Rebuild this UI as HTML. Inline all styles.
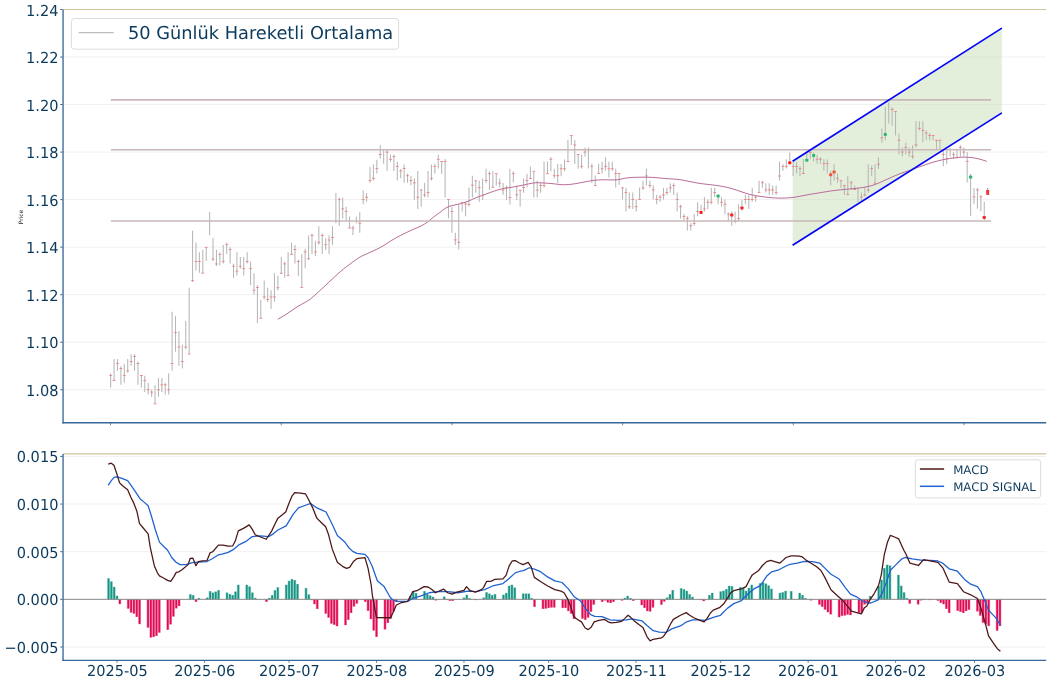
<!DOCTYPE html>
<html lang="tr"><head><meta charset="utf-8"><title>Grafik</title>
<style>html,body{margin:0;padding:0;background:#fff}svg{display:block}</style></head>
<body>
<svg text-rendering="geometricPrecision" width="1050" height="683" viewBox="0 0 1050 683" font-family="'DejaVu Sans', 'Liberation Sans', sans-serif">
<rect width="1050" height="683" fill="#fff"/>
<g stroke="#f0f0f0" stroke-width="1">
<line x1="63.05" x2="1046.2" y1="57.03" y2="57.03"/>
<line x1="63.05" x2="1046.2" y1="104.56" y2="104.56"/>
<line x1="63.05" x2="1046.2" y1="152.09" y2="152.09"/>
<line x1="63.05" x2="1046.2" y1="199.62" y2="199.62"/>
<line x1="63.05" x2="1046.2" y1="247.15" y2="247.15"/>
<line x1="63.05" x2="1046.2" y1="294.68" y2="294.68"/>
<line x1="63.05" x2="1046.2" y1="342.21" y2="342.21"/>
<line x1="63.05" x2="1046.2" y1="389.74" y2="389.74"/>
</g>
<polygon points="792.6,161.2 1001.9,28.1 1001.9,112.9 792.6,245.2" fill="#e3efdb"/>
<g stroke="#000" stroke-opacity="0.035" stroke-width="1">
<line x1="956.41" x2="1001.9" y1="57.03" y2="57.03"/>
<line x1="881.67" x2="1001.9" y1="104.56" y2="104.56"/>
<line x1="806.93" x2="939.02" y1="152.09" y2="152.09"/>
<line x1="792.6" x2="864.27" y1="199.62" y2="199.62"/>
</g>
<g stroke="#b6b6b6" stroke-width="1.05">
<line x1="110.66" x2="110.66" y1="373.36" y2="387.42"/>
<line x1="114.07" x2="114.07" y1="359.06" y2="380.39"/>
<line x1="117.48" x2="117.48" y1="359.06" y2="370.78"/>
<line x1="120.9" x2="120.9" y1="366.33" y2="384.85"/>
<line x1="124.31" x2="124.31" y1="363.99" y2="382.74"/>
<line x1="127.72" x2="127.72" y1="359.06" y2="372.78"/>
<line x1="131.13" x2="131.13" y1="354.26" y2="365.74"/>
<line x1="134.55" x2="134.55" y1="354.26" y2="370.78"/>
<line x1="137.96" x2="137.96" y1="361.41" y2="384.85"/>
<line x1="141.37" x2="141.37" y1="375.47" y2="387.42"/>
<line x1="144.78" x2="144.78" y1="375.7" y2="391.88"/>
<line x1="148.2" x2="148.2" y1="382.74" y2="394.46"/>
<line x1="151.61" x2="151.61" y1="389.77" y2="396.8"/>
<line x1="155.02" x2="155.02" y1="385.08" y2="404.07"/>
<line x1="158.44" x2="158.44" y1="378.05" y2="396.8"/>
<line x1="161.85" x2="161.85" y1="378.05" y2="391.88"/>
<line x1="165.26" x2="165.26" y1="382.74" y2="394.46"/>
<line x1="168.67" x2="168.67" y1="373.13" y2="394.46"/>
<line x1="172.09" x2="172.09" y1="311.68" y2="370.78"/>
<line x1="175.5" x2="175.5" y1="316.19" y2="351.68"/>
<line x1="178.91" x2="178.91" y1="330.94" y2="365.74"/>
<line x1="182.32" x2="182.32" y1="344.65" y2="368.44"/>
<line x1="185.74" x2="185.74" y1="320.9" y2="349.34"/>
<line x1="189.15" x2="189.15" y1="287.7" y2="354.02"/>
<line x1="192.56" x2="192.56" y1="230.74" y2="281.97"/>
<line x1="195.97" x2="195.97" y1="242.62" y2="270.7"/>
<line x1="199.38" x2="199.38" y1="252.25" y2="272.75"/>
<line x1="202.8" x2="202.8" y1="249.8" y2="273.36"/>
<line x1="206.21" x2="206.21" y1="247.13" y2="261.07"/>
<line x1="209.62" x2="209.62" y1="211.89" y2="235.25"/>
<line x1="213.03" x2="213.03" y1="237.91" y2="261.07"/>
<line x1="216.45" x2="216.45" y1="249.8" y2="265.98"/>
<line x1="219.86" x2="219.86" y1="252.25" y2="265.57"/>
<line x1="223.27" x2="223.27" y1="245.08" y2="263.52"/>
<line x1="226.69" x2="226.69" y1="242.62" y2="253.69"/>
<line x1="230.1" x2="230.1" y1="247.13" y2="263.52"/>
<line x1="233.51" x2="233.51" y1="263.52" y2="277.87"/>
<line x1="236.92" x2="236.92" y1="252.25" y2="275.41"/>
<line x1="240.34" x2="240.34" y1="256.97" y2="268.65"/>
<line x1="243.75" x2="243.75" y1="256.97" y2="275.41"/>
<line x1="247.16" x2="247.16" y1="252.25" y2="263.52"/>
<line x1="250.57" x2="250.57" y1="261.48" y2="285.04"/>
<line x1="253.99" x2="253.99" y1="273.36" y2="294.67"/>
<line x1="257.4" x2="257.4" y1="285.04" y2="322.95"/>
<line x1="260.81" x2="260.81" y1="299.8" y2="318.44"/>
<line x1="264.22" x2="264.22" y1="280.53" y2="299.39"/>
<line x1="267.63" x2="267.63" y1="287.7" y2="301.84"/>
<line x1="271.05" x2="271.05" y1="290.16" y2="309.02"/>
<line x1="274.46" x2="274.46" y1="273.36" y2="301.84"/>
<line x1="277.87" x2="277.87" y1="275.82" y2="290.16"/>
<line x1="281.28" x2="281.28" y1="256.97" y2="273.77"/>
<line x1="284.7" x2="284.7" y1="261.48" y2="277.87"/>
<line x1="288.11" x2="288.11" y1="252.25" y2="275.82"/>
<line x1="291.52" x2="291.52" y1="242.62" y2="254.92"/>
<line x1="294.94" x2="294.94" y1="245.08" y2="263.52"/>
<line x1="298.35" x2="298.35" y1="259.43" y2="275.82"/>
<line x1="301.76" x2="301.76" y1="253.98" y2="287.58"/>
<line x1="305.17" x2="305.17" y1="248.85" y2="268.32"/>
<line x1="308.59" x2="308.59" y1="235.53" y2="260.12"/>
<line x1="312" x2="312" y1="233.48" y2="253.98"/>
<line x1="315.41" x2="315.41" y1="240.66" y2="256.02"/>
<line x1="318.82" x2="318.82" y1="226.31" y2="244.75"/>
<line x1="322.24" x2="322.24" y1="233.48" y2="253.98"/>
<line x1="325.65" x2="325.65" y1="238.2" y2="249.88"/>
<line x1="329.06" x2="329.06" y1="235.53" y2="253.98"/>
<line x1="332.47" x2="332.47" y1="226.31" y2="244.75"/>
<line x1="335.88" x2="335.88" y1="192.91" y2="223.24"/>
<line x1="339.3" x2="339.3" y1="197.62" y2="225.7"/>
<line x1="342.71" x2="342.71" y1="197.62" y2="218.52"/>
<line x1="346.12" x2="346.12" y1="206.84" y2="220.16"/>
<line x1="349.53" x2="349.53" y1="216.48" y2="228.36"/>
<line x1="352.95" x2="352.95" y1="225.7" y2="235.12"/>
<line x1="356.36" x2="356.36" y1="216.48" y2="223.24"/>
<line x1="359.77" x2="359.77" y1="211.97" y2="232.87"/>
<line x1="363.19" x2="363.19" y1="190.45" y2="204.18"/>
<line x1="366.6" x2="366.6" y1="192.91" y2="201.72"/>
<line x1="370.01" x2="370.01" y1="166.89" y2="182.87"/>
<line x1="373.42" x2="373.42" y1="164.43" y2="180.41"/>
<line x1="376.84" x2="376.84" y1="159.71" y2="173.44"/>
<line x1="380.25" x2="380.25" y1="145.37" y2="158.69"/>
<line x1="383.66" x2="383.66" y1="150.08" y2="163.81"/>
<line x1="387.07" x2="387.07" y1="150.08" y2="170.98"/>
<line x1="390.49" x2="390.49" y1="154.59" y2="161.76"/>
<line x1="393.9" x2="393.9" y1="154.59" y2="170.98"/>
<line x1="397.31" x2="397.31" y1="161.76" y2="180.41"/>
<line x1="400.72" x2="400.72" y1="168.93" y2="178.16"/>
<line x1="404.13" x2="404.13" y1="164.43" y2="182.87"/>
<line x1="407.55" x2="407.55" y1="173.44" y2="182.87"/>
<line x1="410.96" x2="410.96" y1="176.11" y2="185.33"/>
<line x1="414.37" x2="414.37" y1="178.16" y2="199.67"/>
<line x1="417.78" x2="417.78" y1="170.98" y2="208.89"/>
<line x1="421.2" x2="421.2" y1="189.43" y2="206.84"/>
<line x1="424.61" x2="424.61" y1="182.87" y2="197.21"/>
<line x1="428.02" x2="428.02" y1="170.98" y2="197.21"/>
<line x1="431.44" x2="431.44" y1="164.43" y2="180.41"/>
<line x1="434.85" x2="434.85" y1="163.81" y2="173.44"/>
<line x1="438.26" x2="438.26" y1="154.59" y2="168.52"/>
<line x1="441.67" x2="441.67" y1="160.98" y2="173.69"/>
<line x1="445.09" x2="445.09" y1="158.93" y2="197.46"/>
<line x1="448.5" x2="448.5" y1="199.51" y2="218.36"/>
<line x1="451.91" x2="451.91" y1="207.09" y2="232.7"/>
<line x1="455.32" x2="455.32" y1="232.7" y2="245"/>
<line x1="458.74" x2="458.74" y1="204.02" y2="249.51"/>
<line x1="462.15" x2="462.15" y1="201.97" y2="211.6"/>
<line x1="465.56" x2="465.56" y1="201.97" y2="216.31"/>
<line x1="468.97" x2="468.97" y1="187.62" y2="206.48"/>
<line x1="472.38" x2="472.38" y1="175.74" y2="197.46"/>
<line x1="475.8" x2="475.8" y1="180.45" y2="192.75"/>
<line x1="479.21" x2="479.21" y1="180.86" y2="201.97"/>
<line x1="482.62" x2="482.62" y1="178.4" y2="199.92"/>
<line x1="486.03" x2="486.03" y1="168.77" y2="183.11"/>
<line x1="489.45" x2="489.45" y1="171.23" y2="190.08"/>
<line x1="492.86" x2="492.86" y1="171.23" y2="187.62"/>
<line x1="496.27" x2="496.27" y1="173.69" y2="185.57"/>
<line x1="499.69" x2="499.69" y1="178.4" y2="187.62"/>
<line x1="503.1" x2="503.1" y1="183.11" y2="194.8"/>
<line x1="506.51" x2="506.51" y1="185.57" y2="199.92"/>
<line x1="509.92" x2="509.92" y1="168.77" y2="204.43"/>
<line x1="513.34" x2="513.34" y1="171.23" y2="182.5"/>
<line x1="516.75" x2="516.75" y1="185.57" y2="199.92"/>
<line x1="520.16" x2="520.16" y1="190.08" y2="206.48"/>
<line x1="523.57" x2="523.57" y1="178.4" y2="192.75"/>
<line x1="526.99" x2="526.99" y1="173.69" y2="187.62"/>
<line x1="530.4" x2="530.4" y1="166.52" y2="178.4"/>
<line x1="533.81" x2="533.81" y1="171.23" y2="197.46"/>
<line x1="537.22" x2="537.22" y1="180.45" y2="197.46"/>
<line x1="540.63" x2="540.63" y1="183.11" y2="192.75"/>
<line x1="544.05" x2="544.05" y1="161.6" y2="187.62"/>
<line x1="547.46" x2="547.46" y1="161.6" y2="173.69"/>
<line x1="550.87" x2="550.87" y1="156.89" y2="171.23"/>
<line x1="554.28" x2="554.28" y1="168.77" y2="178.4"/>
<line x1="557.7" x2="557.7" y1="164.06" y2="183.11"/>
<line x1="561.11" x2="561.11" y1="164.06" y2="176.35"/>
<line x1="564.52" x2="564.52" y1="159.34" y2="171.23"/>
<line x1="567.94" x2="567.94" y1="140.08" y2="161.6"/>
<line x1="571.35" x2="571.35" y1="135.37" y2="145"/>
<line x1="574.76" x2="574.76" y1="140.08" y2="164.06"/>
<line x1="578.17" x2="578.17" y1="154.43" y2="168.77"/>
<line x1="581.59" x2="581.59" y1="154.67" y2="168.4"/>
<line x1="585" x2="585" y1="147.5" y2="156.72"/>
<line x1="588.41" x2="588.41" y1="147.5" y2="168.4"/>
<line x1="591.82" x2="591.82" y1="163.69" y2="182.75"/>
<line x1="595.24" x2="595.24" y1="175.57" y2="185.41"/>
<line x1="598.65" x2="598.65" y1="163.69" y2="173.52"/>
<line x1="602.06" x2="602.06" y1="161.64" y2="173.52"/>
<line x1="605.47" x2="605.47" y1="157.13" y2="170.86"/>
<line x1="608.88" x2="608.88" y1="161.64" y2="177.62"/>
<line x1="612.3" x2="612.3" y1="161.64" y2="170.86"/>
<line x1="615.71" x2="615.71" y1="168.81" y2="187.46"/>
<line x1="619.12" x2="619.12" y1="173.11" y2="184.8"/>
<line x1="622.53" x2="622.53" y1="187.46" y2="199.55"/>
<line x1="625.95" x2="625.95" y1="187.87" y2="211.43"/>
<line x1="629.36" x2="629.36" y1="192.58" y2="208.98"/>
<line x1="632.77" x2="632.77" y1="192.58" y2="208.98"/>
<line x1="636.18" x2="636.18" y1="199.55" y2="211.43"/>
<line x1="639.6" x2="639.6" y1="187.46" y2="199.55"/>
<line x1="643.01" x2="643.01" y1="180.7" y2="189.92"/>
<line x1="646.42" x2="646.42" y1="168.81" y2="185.41"/>
<line x1="649.84" x2="649.84" y1="180.7" y2="187.87"/>
<line x1="653.25" x2="653.25" y1="185.41" y2="199.55"/>
<line x1="656.66" x2="656.66" y1="195.04" y2="204.26"/>
<line x1="660.07" x2="660.07" y1="195.04" y2="201.8"/>
<line x1="663.49" x2="663.49" y1="187.87" y2="199.55"/>
<line x1="666.9" x2="666.9" y1="187.87" y2="195.04"/>
<line x1="670.31" x2="670.31" y1="183.16" y2="192.58"/>
<line x1="673.72" x2="673.72" y1="183.16" y2="195.04"/>
<line x1="677.13" x2="677.13" y1="192.58" y2="211.43"/>
<line x1="680.55" x2="680.55" y1="204.67" y2="218.61"/>
<line x1="683.96" x2="683.96" y1="213.89" y2="220.66"/>
<line x1="687.37" x2="687.37" y1="216.15" y2="230.49"/>
<line x1="690.78" x2="690.78" y1="223.32" y2="230.49"/>
<line x1="694.2" x2="694.2" y1="213.89" y2="225.78"/>
<line x1="697.61" x2="697.61" y1="202.21" y2="216.15"/>
<line x1="701.02" x2="701.02" y1="204.67" y2="213.89"/>
<line x1="704.43" x2="704.43" y1="197.09" y2="211.43"/>
<line x1="707.85" x2="707.85" y1="199.55" y2="208.98"/>
<line x1="711.26" x2="711.26" y1="187.87" y2="204.26"/>
<line x1="714.67" x2="714.67" y1="187.87" y2="197.09"/>
<line x1="718.09" x2="718.09" y1="195.04" y2="204.26"/>
<line x1="721.5" x2="721.5" y1="197.09" y2="206.72"/>
<line x1="724.91" x2="724.91" y1="199.55" y2="213.89"/>
<line x1="728.32" x2="728.32" y1="212.46" y2="220.66"/>
<line x1="731.74" x2="731.74" y1="211.43" y2="225.78"/>
<line x1="735.15" x2="735.15" y1="211.43" y2="223.32"/>
<line x1="738.56" x2="738.56" y1="204.26" y2="220.66"/>
<line x1="741.97" x2="741.97" y1="199.55" y2="210.41"/>
<line x1="745.38" x2="745.38" y1="195.04" y2="204.26"/>
<line x1="748.8" x2="748.8" y1="195.04" y2="208.98"/>
<line x1="752.21" x2="752.21" y1="187.87" y2="201.8"/>
<line x1="755.62" x2="755.62" y1="195.04" y2="201.8"/>
<line x1="759.03" x2="759.03" y1="180.7" y2="192.58"/>
<line x1="762.45" x2="762.45" y1="180.7" y2="187.87"/>
<line x1="765.86" x2="765.86" y1="183.16" y2="192.58"/>
<line x1="769.27" x2="769.27" y1="183.16" y2="195.04"/>
<line x1="772.68" x2="772.68" y1="185.41" y2="195.04"/>
<line x1="776.1" x2="776.1" y1="185.41" y2="195.04"/>
<line x1="779.51" x2="779.51" y1="161.64" y2="180.7"/>
<line x1="782.92" x2="782.92" y1="164.3" y2="170.86"/>
<line x1="786.34" x2="786.34" y1="159.18" y2="168.4"/>
<line x1="789.75" x2="789.75" y1="152.42" y2="164.3"/>
<line x1="793.16" x2="793.16" y1="161.64" y2="175.98"/>
<line x1="796.57" x2="796.57" y1="161.64" y2="173.52"/>
<line x1="799.99" x2="799.99" y1="166.35" y2="175.98"/>
<line x1="803.4" x2="803.4" y1="159.18" y2="173.52"/>
<line x1="806.81" x2="806.81" y1="152.42" y2="161.23"/>
<line x1="810.22" x2="810.22" y1="150.98" y2="159.18"/>
<line x1="813.63" x2="813.63" y1="152.42" y2="161.64"/>
<line x1="817.05" x2="817.05" y1="154.67" y2="163.69"/>
<line x1="820.46" x2="820.46" y1="157.13" y2="163.69"/>
<line x1="823.87" x2="823.87" y1="159.18" y2="170.86"/>
<line x1="827.28" x2="827.28" y1="159.18" y2="173.52"/>
<line x1="830.7" x2="830.7" y1="170.86" y2="185.41"/>
<line x1="834.11" x2="834.11" y1="164.3" y2="180.7"/>
<line x1="837.52" x2="837.52" y1="173.52" y2="182.75"/>
<line x1="840.93" x2="840.93" y1="180.7" y2="187.87"/>
<line x1="844.35" x2="844.35" y1="184.8" y2="195.04"/>
<line x1="847.76" x2="847.76" y1="175.98" y2="195.04"/>
<line x1="851.17" x2="851.17" y1="180.7" y2="189.92"/>
<line x1="854.59" x2="854.59" y1="185.41" y2="189.92"/>
<line x1="858" x2="858" y1="187.87" y2="201.8"/>
<line x1="861.41" x2="861.41" y1="192.46" y2="201.68"/>
<line x1="864.82" x2="864.82" y1="187.34" y2="196.56"/>
<line x1="868.24" x2="868.24" y1="164.18" y2="192.46"/>
<line x1="871.65" x2="871.65" y1="165.82" y2="176.07"/>
<line x1="875.06" x2="875.06" y1="164.18" y2="183.24"/>
<line x1="878.47" x2="878.47" y1="157.21" y2="168.89"/>
<line x1="881.88" x2="881.88" y1="128.52" y2="142.87"/>
<line x1="885.3" x2="885.3" y1="107.01" y2="140.2"/>
<line x1="888.71" x2="888.71" y1="102.3" y2="123.81"/>
<line x1="892.12" x2="892.12" y1="107.01" y2="125.86"/>
<line x1="895.53" x2="895.53" y1="111.52" y2="135.49"/>
<line x1="898.95" x2="898.95" y1="133.44" y2="154.55"/>
<line x1="902.36" x2="902.36" y1="147.38" y2="156.6"/>
<line x1="905.77" x2="905.77" y1="142.87" y2="154.55"/>
<line x1="909.18" x2="909.18" y1="147.38" y2="156.6"/>
<line x1="912.6" x2="912.6" y1="145.33" y2="159.06"/>
<line x1="916.01" x2="916.01" y1="121.35" y2="147.38"/>
<line x1="919.42" x2="919.42" y1="121.35" y2="130.57"/>
<line x1="922.84" x2="922.84" y1="121.35" y2="142.25"/>
<line x1="926.25" x2="926.25" y1="130.57" y2="140.2"/>
<line x1="929.66" x2="929.66" y1="133.03" y2="140.2"/>
<line x1="933.07" x2="933.07" y1="135.08" y2="140.2"/>
<line x1="936.49" x2="936.49" y1="140.2" y2="149.43"/>
<line x1="939.9" x2="939.9" y1="140.2" y2="149.43"/>
<line x1="943.31" x2="943.31" y1="149.84" y2="166.23"/>
<line x1="946.72" x2="946.72" y1="149.43" y2="164.18"/>
<line x1="950.13" x2="950.13" y1="147.99" y2="156.6"/>
<line x1="953.55" x2="953.55" y1="152.09" y2="159.06"/>
<line x1="956.96" x2="956.96" y1="149.43" y2="158.65"/>
<line x1="960.37" x2="960.37" y1="145.33" y2="156.6"/>
<line x1="963.78" x2="963.78" y1="147.38" y2="156.6"/>
<line x1="967.2" x2="967.2" y1="152.09" y2="182.62"/>
<line x1="970.61" x2="970.61" y1="174.02" y2="216.02"/>
<line x1="974.02" x2="974.02" y1="187.95" y2="204.34"/>
<line x1="977.43" x2="977.43" y1="187.95" y2="208.85"/>
<line x1="980.85" x2="980.85" y1="194.92" y2="211.31"/>
<line x1="984.26" x2="984.26" y1="201.68" y2="220.12"/>
</g>
<polyline fill="none" stroke="#b86a98" stroke-width="1" stroke-linejoin="round" points="277.83,319.26 280.83,317.53 283.83,315.76 286.83,313.9 289.83,311.89 292.83,309.79 295.83,307.74 298.83,305.86 301.83,304.16 304.83,302.52 307.83,300.77 310.83,298.67 313.83,296.16 316.83,293.43 319.83,290.63 322.83,287.84 325.83,285.04 328.83,282.24 331.83,279.45 334.83,276.65 337.83,273.88 340.83,271.21 343.83,268.74 346.83,266.44 349.83,264.21 352.83,261.99 355.83,259.81 358.83,257.81 361.83,256.12 364.83,254.69 367.83,253.34 370.83,251.98 373.83,250.6 376.83,249.19 379.83,247.71 382.83,246.05 385.83,244.2 388.83,242.24 391.83,240.3 394.83,238.49 397.83,236.86 400.83,235.33 403.83,233.82 406.83,232.34 409.83,230.9 412.83,229.54 415.83,228.26 418.83,226.97 421.83,225.56 424.83,223.86 427.83,221.78 430.83,219.34 433.83,216.83 436.83,214.61 439.83,212.47 442.83,210.11 445.83,208 448.83,206.55 451.83,205.63 454.83,204.97 457.83,204.33 460.83,203.55 463.83,202.69 466.83,201.75 469.83,200.53 472.83,199.13 475.83,197.82 478.83,196.64 481.83,195.53 484.83,194.44 487.83,193.36 490.83,192.3 493.83,191.26 496.83,190.25 499.83,189.34 502.83,188.63 505.83,188.12 508.83,187.69 511.83,187.22 514.83,186.71 517.83,186.16 520.83,185.59 523.83,184.97 526.83,184.3 529.83,183.62 532.83,183.07 535.83,182.77 538.83,182.72 541.83,182.87 544.83,183.08 547.83,183.28 550.83,183.49 553.83,183.8 556.83,184.18 559.83,184.52 562.83,184.72 565.83,184.72 568.83,184.53 571.83,184.19 574.83,183.76 577.83,183.26 580.83,182.7 583.83,182.13 586.83,181.55 589.83,180.98 592.83,180.51 595.83,180.16 598.83,179.91 601.83,179.79 604.83,179.8 607.83,179.86 610.83,179.92 613.83,179.93 616.83,179.75 619.83,179.3 622.83,178.67 625.83,178.08 628.83,177.67 631.83,177.46 634.83,177.33 637.83,177.26 640.83,177.22 643.83,177.21 646.83,177.22 649.83,177.27 652.83,177.4 655.83,177.64 658.83,177.92 661.83,178.22 664.83,178.49 667.83,178.71 670.83,178.88 673.83,179.05 676.83,179.28 679.83,179.66 682.83,180.17 685.83,180.76 688.83,181.36 691.83,181.95 694.83,182.54 697.83,183.09 700.83,183.55 703.83,183.94 706.83,184.29 709.83,184.64 712.83,184.99 715.83,185.36 718.83,185.78 721.83,186.29 724.83,186.87 727.83,187.54 730.83,188.33 733.83,189.21 736.83,190.17 739.83,191.22 742.83,192.27 745.83,193.23 748.83,194.08 751.83,194.84 754.83,195.5 757.83,196.04 760.83,196.49 763.83,196.89 766.83,197.24 769.83,197.56 772.83,197.83 775.83,198.01 778.83,198.09 781.83,198.1 784.83,198.05 787.83,197.91 790.83,197.68 793.83,197.33 796.83,196.85 799.83,196.29 802.83,195.7 805.83,195.13 808.83,194.59 811.83,194.08 814.83,193.58 817.83,193.08 820.83,192.58 823.83,192.08 826.83,191.59 829.83,191.13 832.83,190.71 835.83,190.34 838.83,189.99 841.83,189.67 844.83,189.37 847.83,189.1 850.83,188.85 853.83,188.58 856.83,188.28 859.83,187.91 862.83,187.45 865.83,186.91 868.83,186.31 871.83,185.55 874.83,184.56 877.83,183.39 880.83,182.11 883.83,180.76 886.83,179.39 889.83,178.04 892.83,176.71 895.83,175.41 898.83,174.18 901.83,173.06 904.83,172.01 907.83,170.98 910.83,169.93 913.83,168.86 916.83,167.78 919.83,166.7 922.83,165.62 925.83,164.55 928.83,163.53 931.83,162.59 934.83,161.72 937.83,160.91 940.83,160.17 943.83,159.52 946.83,158.93 949.83,158.42 952.83,158.01 955.83,157.68 958.83,157.41 961.83,157.22 964.83,157.15 967.83,157.24 970.83,157.51 973.83,157.93 976.83,158.48 979.83,159.18 982.83,160.05 985.83,161.06 986.83,161.42"/>
<g fill="#ef7d7d">
<rect x="109.26" y="375.05" width="2.8" height="0.85"/>
<rect x="112.67" y="379.97" width="2.8" height="0.85"/>
<rect x="116.08" y="363.1" width="2.8" height="0.85"/>
<rect x="119.5" y="368.02" width="2.8" height="0.85"/>
<rect x="122.91" y="375.05" width="2.8" height="0.85"/>
<rect x="126.32" y="370.36" width="2.8" height="0.85"/>
<rect x="129.73" y="360.99" width="2.8" height="0.85"/>
<rect x="133.15" y="356.07" width="2.8" height="0.85"/>
<rect x="136.56" y="363.1" width="2.8" height="0.85"/>
<rect x="139.97" y="375.05" width="2.8" height="0.85"/>
<rect x="143.38" y="379.97" width="2.8" height="0.85"/>
<rect x="146.8" y="389.35" width="2.8" height="0.85"/>
<rect x="150.21" y="391.69" width="2.8" height="0.85"/>
<rect x="153.62" y="403.41" width="2.8" height="0.85"/>
<rect x="157.03" y="389.35" width="2.8" height="0.85"/>
<rect x="160.45" y="384.43" width="2.8" height="0.85"/>
<rect x="163.86" y="384.43" width="2.8" height="0.85"/>
<rect x="167.27" y="389.35" width="2.8" height="0.85"/>
<rect x="170.69" y="363.1" width="2.8" height="0.85"/>
<rect x="174.1" y="332.16" width="2.8" height="0.85"/>
<rect x="177.51" y="346.57" width="2.8" height="0.85"/>
<rect x="180.92" y="360.99" width="2.8" height="0.85"/>
<rect x="184.34" y="346.57" width="2.8" height="0.85"/>
<rect x="187.75" y="353.6" width="2.8" height="0.85"/>
<rect x="191.16" y="280.11" width="2.8" height="0.85"/>
<rect x="194.57" y="261.06" width="2.8" height="0.85"/>
<rect x="197.98" y="261.06" width="2.8" height="0.85"/>
<rect x="201.4" y="272.74" width="2.8" height="0.85"/>
<rect x="204.81" y="246.92" width="2.8" height="0.85"/>
<rect x="211.63" y="258.6" width="2.8" height="0.85"/>
<rect x="215.05" y="263.51" width="2.8" height="0.85"/>
<rect x="218.46" y="253.88" width="2.8" height="0.85"/>
<rect x="221.87" y="261.06" width="2.8" height="0.85"/>
<rect x="225.28" y="244.25" width="2.8" height="0.85"/>
<rect x="228.7" y="248.97" width="2.8" height="0.85"/>
<rect x="232.11" y="265.77" width="2.8" height="0.85"/>
<rect x="235.52" y="270.69" width="2.8" height="0.85"/>
<rect x="238.94" y="265.77" width="2.8" height="0.85"/>
<rect x="242.35" y="268.23" width="2.8" height="0.85"/>
<rect x="245.76" y="261.06" width="2.8" height="0.85"/>
<rect x="249.17" y="268.23" width="2.8" height="0.85"/>
<rect x="252.59" y="289.74" width="2.8" height="0.85"/>
<rect x="256" y="287.08" width="2.8" height="0.85"/>
<rect x="259.41" y="317.82" width="2.8" height="0.85"/>
<rect x="262.82" y="296.51" width="2.8" height="0.85"/>
<rect x="266.24" y="299.17" width="2.8" height="0.85"/>
<rect x="269.65" y="296.51" width="2.8" height="0.85"/>
<rect x="273.06" y="296.51" width="2.8" height="0.85"/>
<rect x="276.47" y="287.28" width="2.8" height="0.85"/>
<rect x="279.88" y="272.74" width="2.8" height="0.85"/>
<rect x="283.3" y="263.51" width="2.8" height="0.85"/>
<rect x="286.71" y="274.99" width="2.8" height="0.85"/>
<rect x="290.12" y="253.88" width="2.8" height="0.85"/>
<rect x="293.54" y="248.97" width="2.8" height="0.85"/>
<rect x="296.95" y="261.06" width="2.8" height="0.85"/>
<rect x="300.36" y="286.96" width="2.8" height="0.85"/>
<rect x="303.77" y="251.51" width="2.8" height="0.85"/>
<rect x="307.19" y="258.27" width="2.8" height="0.85"/>
<rect x="310.6" y="235.11" width="2.8" height="0.85"/>
<rect x="314.01" y="251.51" width="2.8" height="0.85"/>
<rect x="317.42" y="241.88" width="2.8" height="0.85"/>
<rect x="320.84" y="235.11" width="2.8" height="0.85"/>
<rect x="324.25" y="244.33" width="2.8" height="0.85"/>
<rect x="327.66" y="239.62" width="2.8" height="0.85"/>
<rect x="331.07" y="237.16" width="2.8" height="0.85"/>
<rect x="337.9" y="199.25" width="2.8" height="0.85"/>
<rect x="341.31" y="208.47" width="2.8" height="0.85"/>
<rect x="344.72" y="210.93" width="2.8" height="0.85"/>
<rect x="348.13" y="227.53" width="2.8" height="0.85"/>
<rect x="351.55" y="227.53" width="2.8" height="0.85"/>
<rect x="358.37" y="222.82" width="2.8" height="0.85"/>
<rect x="361.79" y="199.25" width="2.8" height="0.85"/>
<rect x="365.2" y="196.79" width="2.8" height="0.85"/>
<rect x="368.61" y="179.99" width="2.8" height="0.85"/>
<rect x="372.02" y="177.94" width="2.8" height="0.85"/>
<rect x="375.44" y="168.1" width="2.8" height="0.85"/>
<rect x="378.85" y="154.17" width="2.8" height="0.85"/>
<rect x="385.67" y="151.71" width="2.8" height="0.85"/>
<rect x="389.09" y="158.88" width="2.8" height="0.85"/>
<rect x="392.5" y="156.22" width="2.8" height="0.85"/>
<rect x="395.91" y="166.06" width="2.8" height="0.85"/>
<rect x="399.32" y="170.56" width="2.8" height="0.85"/>
<rect x="402.74" y="168.1" width="2.8" height="0.85"/>
<rect x="406.15" y="175.28" width="2.8" height="0.85"/>
<rect x="409.56" y="179.99" width="2.8" height="0.85"/>
<rect x="412.97" y="182.45" width="2.8" height="0.85"/>
<rect x="416.38" y="196.79" width="2.8" height="0.85"/>
<rect x="419.8" y="189.62" width="2.8" height="0.85"/>
<rect x="423.21" y="194.54" width="2.8" height="0.85"/>
<rect x="426.62" y="192.08" width="2.8" height="0.85"/>
<rect x="430.04" y="177.94" width="2.8" height="0.85"/>
<rect x="433.45" y="166.06" width="2.8" height="0.85"/>
<rect x="436.86" y="158.88" width="2.8" height="0.85"/>
<rect x="440.27" y="161.18" width="2.8" height="0.85"/>
<rect x="443.69" y="161.18" width="2.8" height="0.85"/>
<rect x="447.1" y="199.09" width="2.8" height="0.85"/>
<rect x="450.51" y="211.18" width="2.8" height="0.85"/>
<rect x="453.92" y="239.46" width="2.8" height="0.85"/>
<rect x="457.34" y="241.92" width="2.8" height="0.85"/>
<rect x="460.75" y="202.16" width="2.8" height="0.85"/>
<rect x="464.16" y="203.6" width="2.8" height="0.85"/>
<rect x="467.57" y="204.01" width="2.8" height="0.85"/>
<rect x="470.99" y="184.74" width="2.8" height="0.85"/>
<rect x="474.4" y="180.44" width="2.8" height="0.85"/>
<rect x="477.81" y="187.2" width="2.8" height="0.85"/>
<rect x="481.22" y="194.99" width="2.8" height="0.85"/>
<rect x="484.63" y="180.03" width="2.8" height="0.85"/>
<rect x="488.05" y="173.27" width="2.8" height="0.85"/>
<rect x="491.46" y="186.79" width="2.8" height="0.85"/>
<rect x="494.87" y="173.27" width="2.8" height="0.85"/>
<rect x="498.29" y="182.69" width="2.8" height="0.85"/>
<rect x="501.7" y="189.66" width="2.8" height="0.85"/>
<rect x="505.11" y="187.2" width="2.8" height="0.85"/>
<rect x="508.52" y="197.04" width="2.8" height="0.85"/>
<rect x="511.94" y="173.27" width="2.8" height="0.85"/>
<rect x="515.35" y="194.38" width="2.8" height="0.85"/>
<rect x="518.76" y="189.87" width="2.8" height="0.85"/>
<rect x="522.17" y="187.2" width="2.8" height="0.85"/>
<rect x="525.59" y="180.03" width="2.8" height="0.85"/>
<rect x="529" y="177.98" width="2.8" height="0.85"/>
<rect x="532.41" y="170.81" width="2.8" height="0.85"/>
<rect x="535.82" y="189.66" width="2.8" height="0.85"/>
<rect x="539.24" y="185.15" width="2.8" height="0.85"/>
<rect x="542.65" y="185.15" width="2.8" height="0.85"/>
<rect x="546.06" y="173.27" width="2.8" height="0.85"/>
<rect x="549.47" y="158.92" width="2.8" height="0.85"/>
<rect x="552.88" y="175.32" width="2.8" height="0.85"/>
<rect x="556.3" y="175.32" width="2.8" height="0.85"/>
<rect x="559.71" y="168.35" width="2.8" height="0.85"/>
<rect x="563.12" y="168.35" width="2.8" height="0.85"/>
<rect x="566.54" y="161.18" width="2.8" height="0.85"/>
<rect x="569.95" y="134.95" width="2.8" height="0.85"/>
<rect x="573.36" y="144.58" width="2.8" height="0.85"/>
<rect x="576.77" y="154.01" width="2.8" height="0.85"/>
<rect x="580.19" y="165.93" width="2.8" height="0.85"/>
<rect x="583.6" y="151.59" width="2.8" height="0.85"/>
<rect x="587.01" y="149.54" width="2.8" height="0.85"/>
<rect x="590.42" y="165.93" width="2.8" height="0.85"/>
<rect x="593.84" y="184.99" width="2.8" height="0.85"/>
<rect x="597.25" y="173.1" width="2.8" height="0.85"/>
<rect x="600.66" y="168.39" width="2.8" height="0.85"/>
<rect x="604.07" y="165.93" width="2.8" height="0.85"/>
<rect x="607.49" y="168.39" width="2.8" height="0.85"/>
<rect x="610.9" y="168.39" width="2.8" height="0.85"/>
<rect x="614.31" y="173.1" width="2.8" height="0.85"/>
<rect x="617.72" y="173.1" width="2.8" height="0.85"/>
<rect x="621.13" y="187.45" width="2.8" height="0.85"/>
<rect x="624.55" y="192.16" width="2.8" height="0.85"/>
<rect x="627.96" y="206.3" width="2.8" height="0.85"/>
<rect x="631.37" y="199.13" width="2.8" height="0.85"/>
<rect x="634.78" y="206.3" width="2.8" height="0.85"/>
<rect x="638.2" y="199.13" width="2.8" height="0.85"/>
<rect x="641.61" y="187.45" width="2.8" height="0.85"/>
<rect x="645.02" y="175.56" width="2.8" height="0.85"/>
<rect x="648.44" y="184.99" width="2.8" height="0.85"/>
<rect x="651.85" y="189.5" width="2.8" height="0.85"/>
<rect x="655.26" y="199.13" width="2.8" height="0.85"/>
<rect x="658.67" y="196.67" width="2.8" height="0.85"/>
<rect x="662.09" y="194.62" width="2.8" height="0.85"/>
<rect x="665.5" y="192.16" width="2.8" height="0.85"/>
<rect x="668.91" y="187.45" width="2.8" height="0.85"/>
<rect x="672.32" y="184.99" width="2.8" height="0.85"/>
<rect x="675.74" y="199.13" width="2.8" height="0.85"/>
<rect x="679.15" y="206.3" width="2.8" height="0.85"/>
<rect x="682.56" y="216.14" width="2.8" height="0.85"/>
<rect x="685.97" y="218.19" width="2.8" height="0.85"/>
<rect x="689.38" y="225.36" width="2.8" height="0.85"/>
<rect x="692.8" y="222.9" width="2.8" height="0.85"/>
<rect x="696.21" y="211.01" width="2.8" height="0.85"/>
<rect x="703.03" y="208.56" width="2.8" height="0.85"/>
<rect x="706.45" y="201.79" width="2.8" height="0.85"/>
<rect x="709.86" y="201.79" width="2.8" height="0.85"/>
<rect x="713.27" y="192.16" width="2.8" height="0.85"/>
<rect x="720.1" y="201.79" width="2.8" height="0.85"/>
<rect x="723.51" y="203.84" width="2.8" height="0.85"/>
<rect x="726.92" y="213.47" width="2.8" height="0.85"/>
<rect x="733.75" y="220.44" width="2.8" height="0.85"/>
<rect x="737.16" y="218.19" width="2.8" height="0.85"/>
<rect x="743.99" y="199.13" width="2.8" height="0.85"/>
<rect x="747.4" y="199.13" width="2.8" height="0.85"/>
<rect x="750.81" y="199.13" width="2.8" height="0.85"/>
<rect x="754.22" y="196.67" width="2.8" height="0.85"/>
<rect x="757.63" y="192.16" width="2.8" height="0.85"/>
<rect x="761.05" y="182.33" width="2.8" height="0.85"/>
<rect x="764.46" y="189.5" width="2.8" height="0.85"/>
<rect x="767.87" y="189.5" width="2.8" height="0.85"/>
<rect x="771.28" y="189.5" width="2.8" height="0.85"/>
<rect x="774.7" y="192.16" width="2.8" height="0.85"/>
<rect x="778.11" y="175.56" width="2.8" height="0.85"/>
<rect x="781.52" y="165.93" width="2.8" height="0.85"/>
<rect x="784.94" y="165.93" width="2.8" height="0.85"/>
<rect x="791.76" y="165.93" width="2.8" height="0.85"/>
<rect x="795.17" y="165.93" width="2.8" height="0.85"/>
<rect x="798.59" y="167.98" width="2.8" height="0.85"/>
<rect x="802" y="173.1" width="2.8" height="0.85"/>
<rect x="808.82" y="152" width="2.8" height="0.85"/>
<rect x="815.65" y="158.76" width="2.8" height="0.85"/>
<rect x="819.06" y="158.76" width="2.8" height="0.85"/>
<rect x="822.47" y="163.27" width="2.8" height="0.85"/>
<rect x="825.88" y="163.27" width="2.8" height="0.85"/>
<rect x="836.12" y="177.82" width="2.8" height="0.85"/>
<rect x="839.53" y="180.28" width="2.8" height="0.85"/>
<rect x="842.95" y="185.4" width="2.8" height="0.85"/>
<rect x="846.36" y="194.21" width="2.8" height="0.85"/>
<rect x="849.77" y="182.33" width="2.8" height="0.85"/>
<rect x="853.19" y="189.09" width="2.8" height="0.85"/>
<rect x="860.01" y="196.55" width="2.8" height="0.85"/>
<rect x="863.42" y="194.5" width="2.8" height="0.85"/>
<rect x="866.84" y="189.58" width="2.8" height="0.85"/>
<rect x="870.25" y="168.06" width="2.8" height="0.85"/>
<rect x="873.66" y="182.82" width="2.8" height="0.85"/>
<rect x="877.07" y="163.76" width="2.8" height="0.85"/>
<rect x="880.49" y="137.33" width="2.8" height="0.85"/>
<rect x="890.72" y="109.05" width="2.8" height="0.85"/>
<rect x="894.13" y="111.1" width="2.8" height="0.85"/>
<rect x="897.55" y="139.78" width="2.8" height="0.85"/>
<rect x="900.96" y="151.67" width="2.8" height="0.85"/>
<rect x="904.37" y="146.96" width="2.8" height="0.85"/>
<rect x="907.78" y="151.67" width="2.8" height="0.85"/>
<rect x="911.2" y="156.18" width="2.8" height="0.85"/>
<rect x="914.61" y="144.5" width="2.8" height="0.85"/>
<rect x="918.02" y="127.9" width="2.8" height="0.85"/>
<rect x="921.44" y="130.15" width="2.8" height="0.85"/>
<rect x="924.85" y="132.61" width="2.8" height="0.85"/>
<rect x="928.26" y="135.07" width="2.8" height="0.85"/>
<rect x="931.67" y="135.07" width="2.8" height="0.85"/>
<rect x="935.09" y="139.78" width="2.8" height="0.85"/>
<rect x="938.5" y="139.78" width="2.8" height="0.85"/>
<rect x="941.91" y="154.13" width="2.8" height="0.85"/>
<rect x="945.32" y="158.64" width="2.8" height="0.85"/>
<rect x="948.74" y="149.01" width="2.8" height="0.85"/>
<rect x="952.15" y="154.13" width="2.8" height="0.85"/>
<rect x="955.56" y="156.79" width="2.8" height="0.85"/>
<rect x="958.97" y="146.96" width="2.8" height="0.85"/>
<rect x="962.38" y="151.67" width="2.8" height="0.85"/>
<rect x="965.8" y="160.89" width="2.8" height="0.85"/>
<rect x="972.62" y="196.55" width="2.8" height="0.85"/>
<rect x="976.03" y="189.58" width="2.8" height="0.85"/>
<rect x="979.45" y="196.55" width="2.8" height="0.85"/>
</g>
<rect x="699.42" y="210.96" width="3.2" height="3" rx="0.9" fill="#ff1f1f"/>
<rect x="716.49" y="194.57" width="3.2" height="3" rx="0.9" fill="#2bb870"/>
<rect x="730.13" y="213.62" width="3.2" height="3" rx="0.9" fill="#ff1f1f"/>
<rect x="740.37" y="206.45" width="3.2" height="3" rx="0.9" fill="#ff1f1f"/>
<rect x="788.15" y="161.37" width="3.2" height="3" rx="0.9" fill="#ff1f1f"/>
<rect x="805.21" y="158.7" width="3.2" height="3" rx="0.9" fill="#2bb870"/>
<rect x="812.03" y="153.99" width="3.2" height="3" rx="0.9" fill="#2bb870"/>
<rect x="829.1" y="173.25" width="3.2" height="3" rx="0.9" fill="#f2543c"/>
<rect x="832.51" y="170.59" width="3.2" height="3" rx="0.9" fill="#f2543c"/>
<rect x="883.7" y="132.97" width="3.2" height="3" rx="0.9" fill="#2bb870"/>
<rect x="969.01" y="175.59" width="3.2" height="3" rx="0.9" fill="#2bb870"/>
<rect x="982.66" y="215.96" width="3.2" height="3" rx="0.9" fill="#ff1f1f"/>
<line x1="987.67" x2="987.67" y1="187.95" y2="190.5" stroke="#9a9a9a" stroke-width="1"/>
<rect x="986.17" y="190" width="3" height="4.9" fill="#f5333f"/>
<line x1="110.9" x2="991.1" y1="99.85" y2="99.85" stroke="#c9b7b9" stroke-width="1.6"/>
<line x1="110.9" x2="991.1" y1="149.75" y2="149.75" stroke="#c9b7b9" stroke-width="1.6"/>
<line x1="110.9" x2="991.1" y1="221.05" y2="221.05" stroke="#c9b7b9" stroke-width="1.6"/>
<line x1="792.6" y1="161.2" x2="1001.9" y2="28.1" stroke="#0404f8" stroke-width="1.7"/>
<line x1="792.6" y1="245.2" x2="1001.9" y2="112.9" stroke="#0404f8" stroke-width="1.7"/>
<line x1="63.05" x2="1046.2" y1="9.5" y2="9.5" stroke="#d0c49c" stroke-width="1.2"/>
<line x1="63.05" x2="63.05" y1="9.5" y2="423.45" stroke="#376899" stroke-width="1.35"/>
<line x1="62.35" x2="1046.2" y1="422.75" y2="422.75" stroke="#376899" stroke-width="1.35"/>
<line x1="110.5" x2="110.5" y1="422.75" y2="425.25" stroke="#376899" stroke-width="0.8"/>
<line x1="281.2" x2="281.2" y1="422.75" y2="425.25" stroke="#376899" stroke-width="0.8"/>
<line x1="451.9" x2="451.9" y1="422.75" y2="425.25" stroke="#376899" stroke-width="0.8"/>
<line x1="622.6" x2="622.6" y1="422.75" y2="425.25" stroke="#376899" stroke-width="0.8"/>
<line x1="793.3" x2="793.3" y1="422.75" y2="425.25" stroke="#376899" stroke-width="0.8"/>
<line x1="964" x2="964" y1="422.75" y2="425.25" stroke="#376899" stroke-width="0.8"/>
<g fill="#0b3a5c" font-size="14.55" text-anchor="end">
<text transform="translate(58.4,15.5) scale(1,1.04)">1.24</text>
<text transform="translate(58.4,63.03) scale(1,1.04)">1.22</text>
<text transform="translate(58.4,110.56) scale(1,1.04)">1.20</text>
<text transform="translate(58.4,158.09) scale(1,1.04)">1.18</text>
<text transform="translate(58.4,205.62) scale(1,1.04)">1.16</text>
<text transform="translate(58.4,253.15) scale(1,1.04)">1.14</text>
<text transform="translate(58.4,300.68) scale(1,1.04)">1.12</text>
<text transform="translate(58.4,348.21) scale(1,1.04)">1.10</text>
<text transform="translate(58.4,395.74) scale(1,1.04)">1.08</text>
</g>
<line x1="60.3" x2="62.4" y1="9.5" y2="9.5" stroke="#0b3a5c" stroke-width="0.8"/>
<line x1="60.3" x2="62.4" y1="57.03" y2="57.03" stroke="#0b3a5c" stroke-width="0.8"/>
<line x1="60.3" x2="62.4" y1="104.56" y2="104.56" stroke="#0b3a5c" stroke-width="0.8"/>
<line x1="60.3" x2="62.4" y1="152.09" y2="152.09" stroke="#0b3a5c" stroke-width="0.8"/>
<line x1="60.3" x2="62.4" y1="199.62" y2="199.62" stroke="#0b3a5c" stroke-width="0.8"/>
<line x1="60.3" x2="62.4" y1="247.15" y2="247.15" stroke="#0b3a5c" stroke-width="0.8"/>
<line x1="60.3" x2="62.4" y1="294.68" y2="294.68" stroke="#0b3a5c" stroke-width="0.8"/>
<line x1="60.3" x2="62.4" y1="342.21" y2="342.21" stroke="#0b3a5c" stroke-width="0.8"/>
<line x1="60.3" x2="62.4" y1="389.74" y2="389.74" stroke="#0b3a5c" stroke-width="0.8"/>
<text transform="translate(22.6,217) rotate(-90)" font-size="5.9" fill="#222" text-anchor="middle">Price</text>
<rect x="71.4" y="18.5" width="327.2" height="30.7" rx="3" fill="#fff" fill-opacity="0.8" stroke="#dcdcdc" stroke-width="1"/>
<line x1="78.6" x2="113.8" y1="32.6" y2="32.6" stroke="#bdbdbd" stroke-width="1.1"/>
<text x="127.9" y="38.9" font-size="17.8" fill="#0b3a5c">50 Günlük Hareketli Ortalama</text>
<g stroke="#f0f0f0" stroke-width="1">
<line x1="63.05" x2="1046.2" y1="456.4" y2="456.4"/>
<line x1="63.05" x2="1046.2" y1="504.05" y2="504.05"/>
<line x1="63.05" x2="1046.2" y1="551.7" y2="551.7"/>
<line x1="63.05" x2="1046.2" y1="647" y2="647"/>
</g>
<g fill="#149483" fill-opacity="0.38">
<rect x="107.09" y="578.15" width="2.9" height="21.2"/>
<rect x="109.91" y="581.35" width="2.9" height="18"/>
<rect x="112.73" y="586.75" width="2.9" height="12.6"/>
<rect x="115.55" y="595.65" width="2.9" height="3.7"/>
<rect x="188.9" y="594.15" width="2.9" height="5.2"/>
<rect x="191.72" y="595.05" width="2.9" height="4.3"/>
<rect x="197.36" y="597.95" width="2.9" height="1.4"/>
<rect x="205.82" y="597.45" width="2.9" height="1.9"/>
<rect x="208.64" y="591.05" width="2.9" height="8.3"/>
<rect x="211.46" y="592.45" width="2.9" height="6.9"/>
<rect x="214.29" y="591.45" width="2.9" height="7.9"/>
<rect x="217.11" y="590.05" width="2.9" height="9.3"/>
<rect x="225.57" y="592.45" width="2.9" height="6.9"/>
<rect x="228.39" y="593.95" width="2.9" height="5.4"/>
<rect x="231.21" y="594.95" width="2.9" height="4.4"/>
<rect x="234.03" y="591.45" width="2.9" height="7.9"/>
<rect x="236.85" y="584.65" width="2.9" height="14.7"/>
<rect x="245.32" y="584.65" width="2.9" height="14.7"/>
<rect x="248.14" y="586.35" width="2.9" height="13"/>
<rect x="250.96" y="592.45" width="2.9" height="6.9"/>
<rect x="253.78" y="597.75" width="2.9" height="1.6"/>
<rect x="267.88" y="597.75" width="2.9" height="1.6"/>
<rect x="270.7" y="595.05" width="2.9" height="4.3"/>
<rect x="273.53" y="590.05" width="2.9" height="9.3"/>
<rect x="276.35" y="587.15" width="2.9" height="12.2"/>
<rect x="284.81" y="584.65" width="2.9" height="14.7"/>
<rect x="287.63" y="580.75" width="2.9" height="18.6"/>
<rect x="290.45" y="578.95" width="2.9" height="20.4"/>
<rect x="293.27" y="579.95" width="2.9" height="19.4"/>
<rect x="296.09" y="583.95" width="2.9" height="15.4"/>
<rect x="304.56" y="587.95" width="2.9" height="11.4"/>
<rect x="307.38" y="594.35" width="2.9" height="5"/>
<rect x="408.93" y="595.75" width="2.9" height="3.6"/>
<rect x="411.76" y="591.05" width="2.9" height="8.3"/>
<rect x="414.58" y="592.95" width="2.9" height="6.4"/>
<rect x="423.04" y="591.05" width="2.9" height="8.3"/>
<rect x="425.86" y="593.95" width="2.9" height="5.4"/>
<rect x="428.68" y="595.35" width="2.9" height="4"/>
<rect x="431.5" y="596.75" width="2.9" height="2.6"/>
<rect x="442.79" y="596.45" width="2.9" height="2.9"/>
<rect x="462.53" y="597.45" width="2.9" height="1.9"/>
<rect x="465.35" y="594.65" width="2.9" height="4.7"/>
<rect x="468.18" y="598.15" width="2.9" height="1.2"/>
<rect x="482.28" y="597.45" width="2.9" height="1.9"/>
<rect x="485.1" y="592.15" width="2.9" height="7.2"/>
<rect x="487.92" y="593.45" width="2.9" height="5.9"/>
<rect x="490.74" y="595.05" width="2.9" height="4.3"/>
<rect x="493.56" y="593.95" width="2.9" height="5.4"/>
<rect x="502.03" y="594.65" width="2.9" height="4.7"/>
<rect x="504.85" y="592.75" width="2.9" height="6.6"/>
<rect x="507.67" y="585.65" width="2.9" height="13.7"/>
<rect x="510.49" y="584.65" width="2.9" height="14.7"/>
<rect x="513.31" y="587.45" width="2.9" height="11.9"/>
<rect x="521.77" y="593.45" width="2.9" height="5.9"/>
<rect x="524.6" y="593.45" width="2.9" height="5.9"/>
<rect x="527.42" y="593.45" width="2.9" height="5.9"/>
<rect x="530.24" y="597.95" width="2.9" height="1.4"/>
<rect x="623.33" y="597.75" width="2.9" height="1.6"/>
<rect x="626.15" y="595.75" width="2.9" height="3.6"/>
<rect x="628.97" y="597.95" width="2.9" height="1.4"/>
<rect x="665.64" y="597.45" width="2.9" height="1.9"/>
<rect x="668.47" y="594.15" width="2.9" height="5.2"/>
<rect x="671.29" y="589.95" width="2.9" height="9.4"/>
<rect x="679.75" y="588.15" width="2.9" height="11.2"/>
<rect x="682.57" y="589.15" width="2.9" height="10.2"/>
<rect x="685.39" y="590.75" width="2.9" height="8.6"/>
<rect x="688.21" y="594.15" width="2.9" height="5.2"/>
<rect x="691.03" y="596.75" width="2.9" height="2.6"/>
<rect x="707.96" y="594.95" width="2.9" height="4.4"/>
<rect x="710.78" y="592.75" width="2.9" height="6.6"/>
<rect x="719.24" y="591.35" width="2.9" height="8"/>
<rect x="722.06" y="590.65" width="2.9" height="8.7"/>
<rect x="724.89" y="588.95" width="2.9" height="10.4"/>
<rect x="727.71" y="585.75" width="2.9" height="13.6"/>
<rect x="730.53" y="586.05" width="2.9" height="13.3"/>
<rect x="738.99" y="587.15" width="2.9" height="12.2"/>
<rect x="741.81" y="587.95" width="2.9" height="11.4"/>
<rect x="744.63" y="590.75" width="2.9" height="8.6"/>
<rect x="747.45" y="587.75" width="2.9" height="11.6"/>
<rect x="750.27" y="584.65" width="2.9" height="14.7"/>
<rect x="758.74" y="583.15" width="2.9" height="16.2"/>
<rect x="761.56" y="582.15" width="2.9" height="17.2"/>
<rect x="764.38" y="583.45" width="2.9" height="15.9"/>
<rect x="767.2" y="585.35" width="2.9" height="14"/>
<rect x="770.02" y="588.65" width="2.9" height="10.7"/>
<rect x="778.49" y="592.75" width="2.9" height="6.6"/>
<rect x="781.31" y="592.15" width="2.9" height="7.2"/>
<rect x="784.13" y="590.75" width="2.9" height="8.6"/>
<rect x="789.77" y="591.05" width="2.9" height="8.3"/>
<rect x="798.23" y="592.75" width="2.9" height="6.6"/>
<rect x="801.05" y="594.95" width="2.9" height="4.4"/>
<rect x="803.87" y="597.95" width="2.9" height="1.4"/>
<rect x="868.76" y="595.85" width="2.9" height="3.5"/>
<rect x="877.22" y="586.05" width="2.9" height="13.3"/>
<rect x="880.04" y="579.65" width="2.9" height="19.7"/>
<rect x="882.86" y="567.95" width="2.9" height="31.4"/>
<rect x="885.68" y="564.65" width="2.9" height="34.7"/>
<rect x="888.5" y="565.35" width="2.9" height="34"/>
<rect x="896.97" y="574.75" width="2.9" height="24.6"/>
<rect x="899.79" y="585.65" width="2.9" height="13.7"/>
<rect x="902.61" y="592.25" width="2.9" height="7.1"/>
<rect x="905.43" y="597.95" width="2.9" height="1.4"/>
<rect x="922.36" y="598.65" width="2.9" height="0.7"/>
</g>
<g fill="#149483">
<rect x="107.69" y="578.45" width="1.7" height="20.9"/>
<rect x="110.51" y="581.65" width="1.7" height="17.7"/>
<rect x="113.33" y="587.05" width="1.7" height="12.3"/>
<rect x="116.15" y="595.95" width="1.7" height="3.4"/>
<rect x="189.5" y="594.45" width="1.7" height="4.9"/>
<rect x="192.32" y="595.35" width="1.7" height="4"/>
<rect x="197.96" y="598.25" width="1.7" height="1.1"/>
<rect x="206.42" y="597.75" width="1.7" height="1.6"/>
<rect x="209.24" y="591.35" width="1.7" height="8"/>
<rect x="212.06" y="592.75" width="1.7" height="6.6"/>
<rect x="214.89" y="591.75" width="1.7" height="7.6"/>
<rect x="217.71" y="590.35" width="1.7" height="9"/>
<rect x="226.17" y="592.75" width="1.7" height="6.6"/>
<rect x="228.99" y="594.25" width="1.7" height="5.1"/>
<rect x="231.81" y="595.25" width="1.7" height="4.1"/>
<rect x="234.63" y="591.75" width="1.7" height="7.6"/>
<rect x="237.45" y="584.95" width="1.7" height="14.4"/>
<rect x="245.92" y="584.95" width="1.7" height="14.4"/>
<rect x="248.74" y="586.65" width="1.7" height="12.7"/>
<rect x="251.56" y="592.75" width="1.7" height="6.6"/>
<rect x="254.38" y="598.05" width="1.7" height="1.3"/>
<rect x="268.48" y="598.05" width="1.7" height="1.3"/>
<rect x="271.3" y="595.35" width="1.7" height="4"/>
<rect x="274.13" y="590.35" width="1.7" height="9"/>
<rect x="276.95" y="587.45" width="1.7" height="11.9"/>
<rect x="285.41" y="584.95" width="1.7" height="14.4"/>
<rect x="288.23" y="581.05" width="1.7" height="18.3"/>
<rect x="291.05" y="579.25" width="1.7" height="20.1"/>
<rect x="293.87" y="580.25" width="1.7" height="19.1"/>
<rect x="296.69" y="584.25" width="1.7" height="15.1"/>
<rect x="305.16" y="588.25" width="1.7" height="11.1"/>
<rect x="307.98" y="594.65" width="1.7" height="4.7"/>
<rect x="409.53" y="596.05" width="1.7" height="3.3"/>
<rect x="412.36" y="591.35" width="1.7" height="8"/>
<rect x="415.18" y="593.25" width="1.7" height="6.1"/>
<rect x="423.64" y="591.35" width="1.7" height="8"/>
<rect x="426.46" y="594.25" width="1.7" height="5.1"/>
<rect x="429.28" y="595.65" width="1.7" height="3.7"/>
<rect x="432.1" y="597.05" width="1.7" height="2.3"/>
<rect x="443.39" y="596.75" width="1.7" height="2.6"/>
<rect x="463.13" y="597.75" width="1.7" height="1.6"/>
<rect x="465.95" y="594.95" width="1.7" height="4.4"/>
<rect x="468.77" y="598.45" width="1.7" height="0.9"/>
<rect x="482.88" y="597.75" width="1.7" height="1.6"/>
<rect x="485.7" y="592.45" width="1.7" height="6.9"/>
<rect x="488.52" y="593.75" width="1.7" height="5.6"/>
<rect x="491.34" y="595.35" width="1.7" height="4"/>
<rect x="494.16" y="594.25" width="1.7" height="5.1"/>
<rect x="502.63" y="594.95" width="1.7" height="4.4"/>
<rect x="505.45" y="593.05" width="1.7" height="6.3"/>
<rect x="508.27" y="585.95" width="1.7" height="13.4"/>
<rect x="511.09" y="584.95" width="1.7" height="14.4"/>
<rect x="513.91" y="587.75" width="1.7" height="11.6"/>
<rect x="522.37" y="593.75" width="1.7" height="5.6"/>
<rect x="525.2" y="593.75" width="1.7" height="5.6"/>
<rect x="528.02" y="593.75" width="1.7" height="5.6"/>
<rect x="530.84" y="598.25" width="1.7" height="1.1"/>
<rect x="623.93" y="598.05" width="1.7" height="1.3"/>
<rect x="626.75" y="596.05" width="1.7" height="3.3"/>
<rect x="629.57" y="598.25" width="1.7" height="1.1"/>
<rect x="666.25" y="597.75" width="1.7" height="1.6"/>
<rect x="669.07" y="594.45" width="1.7" height="4.9"/>
<rect x="671.89" y="590.25" width="1.7" height="9.1"/>
<rect x="680.35" y="588.45" width="1.7" height="10.9"/>
<rect x="683.17" y="589.45" width="1.7" height="9.9"/>
<rect x="685.99" y="591.05" width="1.7" height="8.3"/>
<rect x="688.81" y="594.45" width="1.7" height="4.9"/>
<rect x="691.63" y="597.05" width="1.7" height="2.3"/>
<rect x="708.56" y="595.25" width="1.7" height="4.1"/>
<rect x="711.38" y="593.05" width="1.7" height="6.3"/>
<rect x="719.84" y="591.65" width="1.7" height="7.7"/>
<rect x="722.66" y="590.95" width="1.7" height="8.4"/>
<rect x="725.49" y="589.25" width="1.7" height="10.1"/>
<rect x="728.31" y="586.05" width="1.7" height="13.3"/>
<rect x="731.13" y="586.35" width="1.7" height="13"/>
<rect x="739.59" y="587.45" width="1.7" height="11.9"/>
<rect x="742.41" y="588.25" width="1.7" height="11.1"/>
<rect x="745.23" y="591.05" width="1.7" height="8.3"/>
<rect x="748.05" y="588.05" width="1.7" height="11.3"/>
<rect x="750.88" y="584.95" width="1.7" height="14.4"/>
<rect x="759.34" y="583.45" width="1.7" height="15.9"/>
<rect x="762.16" y="582.45" width="1.7" height="16.9"/>
<rect x="764.98" y="583.75" width="1.7" height="15.6"/>
<rect x="767.8" y="585.65" width="1.7" height="13.7"/>
<rect x="770.62" y="588.95" width="1.7" height="10.4"/>
<rect x="779.09" y="593.05" width="1.7" height="6.3"/>
<rect x="781.91" y="592.45" width="1.7" height="6.9"/>
<rect x="784.73" y="591.05" width="1.7" height="8.3"/>
<rect x="790.37" y="591.35" width="1.7" height="8"/>
<rect x="798.83" y="593.05" width="1.7" height="6.3"/>
<rect x="801.65" y="595.25" width="1.7" height="4.1"/>
<rect x="804.47" y="598.25" width="1.7" height="1.1"/>
<rect x="869.36" y="596.15" width="1.7" height="3.2"/>
<rect x="877.82" y="586.35" width="1.7" height="13"/>
<rect x="880.64" y="579.95" width="1.7" height="19.4"/>
<rect x="883.46" y="568.25" width="1.7" height="31.1"/>
<rect x="886.28" y="564.95" width="1.7" height="34.4"/>
<rect x="889.1" y="565.65" width="1.7" height="33.7"/>
<rect x="897.57" y="575.05" width="1.7" height="24.3"/>
<rect x="900.39" y="585.95" width="1.7" height="13.4"/>
<rect x="903.21" y="592.55" width="1.7" height="6.8"/>
<rect x="906.03" y="598.25" width="1.7" height="1.1"/>
<rect x="922.96" y="598.95" width="1.7" height="0.4"/>
</g>
<g fill="#e00a54" fill-opacity="0.38">
<rect x="118.37" y="599.35" width="2.9" height="4.9"/>
<rect x="126.83" y="599.35" width="2.9" height="9.4"/>
<rect x="129.66" y="599.35" width="2.9" height="13.4"/>
<rect x="132.48" y="599.35" width="2.9" height="14.4"/>
<rect x="135.3" y="599.35" width="2.9" height="17.7"/>
<rect x="138.12" y="599.35" width="2.9" height="24.9"/>
<rect x="146.58" y="599.35" width="2.9" height="28.4"/>
<rect x="149.4" y="599.35" width="2.9" height="38.3"/>
<rect x="152.22" y="599.35" width="2.9" height="37.7"/>
<rect x="155.04" y="599.35" width="2.9" height="36.6"/>
<rect x="157.87" y="599.35" width="2.9" height="33.4"/>
<rect x="166.33" y="599.35" width="2.9" height="30.6"/>
<rect x="169.15" y="599.35" width="2.9" height="25.2"/>
<rect x="171.97" y="599.35" width="2.9" height="17.3"/>
<rect x="174.79" y="599.35" width="2.9" height="9.2"/>
<rect x="177.61" y="599.35" width="2.9" height="6.9"/>
<rect x="194.54" y="599.35" width="2.9" height="2.6"/>
<rect x="265.06" y="599.35" width="2.9" height="2.6"/>
<rect x="310.2" y="599.35" width="2.9" height="0.9"/>
<rect x="313.02" y="599.35" width="2.9" height="4.9"/>
<rect x="315.84" y="599.35" width="2.9" height="9.7"/>
<rect x="324.3" y="599.35" width="2.9" height="14.4"/>
<rect x="327.13" y="599.35" width="2.9" height="18.4"/>
<rect x="329.95" y="599.35" width="2.9" height="24.4"/>
<rect x="332.77" y="599.35" width="2.9" height="25.6"/>
<rect x="335.59" y="599.35" width="2.9" height="27"/>
<rect x="344.05" y="599.35" width="2.9" height="25.9"/>
<rect x="346.87" y="599.35" width="2.9" height="20.6"/>
<rect x="349.69" y="599.35" width="2.9" height="13.7"/>
<rect x="352.51" y="599.35" width="2.9" height="7.3"/>
<rect x="355.34" y="599.35" width="2.9" height="4.4"/>
<rect x="363.8" y="599.35" width="2.9" height="2.6"/>
<rect x="366.62" y="599.35" width="2.9" height="11.6"/>
<rect x="369.44" y="599.35" width="2.9" height="19.9"/>
<rect x="372.26" y="599.35" width="2.9" height="31.3"/>
<rect x="375.08" y="599.35" width="2.9" height="37.7"/>
<rect x="383.55" y="599.35" width="2.9" height="30.2"/>
<rect x="386.37" y="599.35" width="2.9" height="23.7"/>
<rect x="389.19" y="599.35" width="2.9" height="19.4"/>
<rect x="392.01" y="599.35" width="2.9" height="12.3"/>
<rect x="394.83" y="599.35" width="2.9" height="2"/>
<rect x="434.32" y="599.35" width="2.9" height="1.2"/>
<rect x="445.61" y="599.35" width="2.9" height="0.8"/>
<rect x="448.43" y="599.35" width="2.9" height="1.6"/>
<rect x="451.25" y="599.35" width="2.9" height="1.6"/>
<rect x="473.82" y="599.35" width="2.9" height="0.8"/>
<rect x="533.06" y="599.35" width="2.9" height="7.6"/>
<rect x="541.52" y="599.35" width="2.9" height="9.7"/>
<rect x="544.34" y="599.35" width="2.9" height="9.4"/>
<rect x="547.16" y="599.35" width="2.9" height="8.7"/>
<rect x="549.98" y="599.35" width="2.9" height="8.3"/>
<rect x="552.81" y="599.35" width="2.9" height="8.3"/>
<rect x="561.27" y="599.35" width="2.9" height="8.7"/>
<rect x="564.09" y="599.35" width="2.9" height="8.7"/>
<rect x="566.91" y="599.35" width="2.9" height="11.9"/>
<rect x="569.73" y="599.35" width="2.9" height="14.4"/>
<rect x="572.55" y="599.35" width="2.9" height="19.7"/>
<rect x="581.01" y="599.35" width="2.9" height="19.4"/>
<rect x="583.84" y="599.35" width="2.9" height="20.6"/>
<rect x="586.66" y="599.35" width="2.9" height="18.4"/>
<rect x="589.48" y="599.35" width="2.9" height="12.6"/>
<rect x="592.3" y="599.35" width="2.9" height="5.4"/>
<rect x="600.76" y="599.35" width="2.9" height="2.6"/>
<rect x="603.58" y="599.35" width="2.9" height="1.3"/>
<rect x="606.4" y="599.35" width="2.9" height="3.3"/>
<rect x="609.22" y="599.35" width="2.9" height="3.7"/>
<rect x="612.05" y="599.35" width="2.9" height="2.6"/>
<rect x="620.51" y="599.35" width="2.9" height="1.3"/>
<rect x="631.79" y="599.35" width="2.9" height="1.6"/>
<rect x="640.26" y="599.35" width="2.9" height="5.9"/>
<rect x="643.08" y="599.35" width="2.9" height="8.7"/>
<rect x="645.9" y="599.35" width="2.9" height="11.9"/>
<rect x="648.72" y="599.35" width="2.9" height="12.3"/>
<rect x="651.54" y="599.35" width="2.9" height="8.3"/>
<rect x="660" y="599.35" width="2.9" height="5.4"/>
<rect x="662.82" y="599.35" width="2.9" height="2.3"/>
<rect x="699.5" y="599.35" width="2.9" height="0.8"/>
<rect x="702.32" y="599.35" width="2.9" height="1.9"/>
<rect x="809.52" y="599.35" width="2.9" height="1.2"/>
<rect x="817.98" y="599.35" width="2.9" height="5.4"/>
<rect x="820.8" y="599.35" width="2.9" height="7.6"/>
<rect x="823.62" y="599.35" width="2.9" height="10.4"/>
<rect x="826.44" y="599.35" width="2.9" height="13"/>
<rect x="829.26" y="599.35" width="2.9" height="15.2"/>
<rect x="837.73" y="599.35" width="2.9" height="18"/>
<rect x="840.55" y="599.35" width="2.9" height="16.6"/>
<rect x="843.37" y="599.35" width="2.9" height="16.3"/>
<rect x="846.19" y="599.35" width="2.9" height="15.4"/>
<rect x="849.01" y="599.35" width="2.9" height="15.9"/>
<rect x="857.47" y="599.35" width="2.9" height="13.7"/>
<rect x="860.29" y="599.35" width="2.9" height="13.3"/>
<rect x="863.12" y="599.35" width="2.9" height="5.2"/>
<rect x="865.94" y="599.35" width="2.9" height="4.2"/>
<rect x="908.25" y="599.35" width="2.9" height="4.4"/>
<rect x="916.71" y="599.35" width="2.9" height="5.2"/>
<rect x="919.53" y="599.35" width="2.9" height="1.2"/>
<rect x="928" y="599.35" width="2.9" height="0.8"/>
<rect x="936.46" y="599.35" width="2.9" height="1.5"/>
<rect x="939.28" y="599.35" width="2.9" height="3.6"/>
<rect x="942.1" y="599.35" width="2.9" height="5"/>
<rect x="944.92" y="599.35" width="2.9" height="9.6"/>
<rect x="947.75" y="599.35" width="2.9" height="13.7"/>
<rect x="956.21" y="599.35" width="2.9" height="11.6"/>
<rect x="959.03" y="599.35" width="2.9" height="12.6"/>
<rect x="961.85" y="599.35" width="2.9" height="13.7"/>
<rect x="964.67" y="599.35" width="2.9" height="11.9"/>
<rect x="967.49" y="599.35" width="2.9" height="10.5"/>
<rect x="975.96" y="599.35" width="2.9" height="12.2"/>
<rect x="978.78" y="599.35" width="2.9" height="16.4"/>
<rect x="981.6" y="599.35" width="2.9" height="23.5"/>
<rect x="984.42" y="599.35" width="2.9" height="25.1"/>
<rect x="987.24" y="599.35" width="2.9" height="26.8"/>
<rect x="995.7" y="599.35" width="2.9" height="31.4"/>
<rect x="998.52" y="599.35" width="2.9" height="26.8"/>
</g>
<g fill="#e00a54">
<rect x="118.97" y="599.35" width="1.7" height="4.6"/>
<rect x="127.43" y="599.35" width="1.7" height="9.1"/>
<rect x="130.25" y="599.35" width="1.7" height="13.1"/>
<rect x="133.08" y="599.35" width="1.7" height="14.1"/>
<rect x="135.9" y="599.35" width="1.7" height="17.4"/>
<rect x="138.72" y="599.35" width="1.7" height="24.6"/>
<rect x="147.18" y="599.35" width="1.7" height="28.1"/>
<rect x="150" y="599.35" width="1.7" height="38"/>
<rect x="152.82" y="599.35" width="1.7" height="37.4"/>
<rect x="155.64" y="599.35" width="1.7" height="36.3"/>
<rect x="158.47" y="599.35" width="1.7" height="33.1"/>
<rect x="166.93" y="599.35" width="1.7" height="30.3"/>
<rect x="169.75" y="599.35" width="1.7" height="24.9"/>
<rect x="172.57" y="599.35" width="1.7" height="17"/>
<rect x="175.39" y="599.35" width="1.7" height="8.9"/>
<rect x="178.21" y="599.35" width="1.7" height="6.6"/>
<rect x="195.14" y="599.35" width="1.7" height="2.3"/>
<rect x="265.66" y="599.35" width="1.7" height="2.3"/>
<rect x="310.8" y="599.35" width="1.7" height="0.6"/>
<rect x="313.62" y="599.35" width="1.7" height="4.6"/>
<rect x="316.44" y="599.35" width="1.7" height="9.4"/>
<rect x="324.9" y="599.35" width="1.7" height="14.1"/>
<rect x="327.73" y="599.35" width="1.7" height="18.1"/>
<rect x="330.55" y="599.35" width="1.7" height="24.1"/>
<rect x="333.37" y="599.35" width="1.7" height="25.3"/>
<rect x="336.19" y="599.35" width="1.7" height="26.7"/>
<rect x="344.65" y="599.35" width="1.7" height="25.6"/>
<rect x="347.47" y="599.35" width="1.7" height="20.3"/>
<rect x="350.29" y="599.35" width="1.7" height="13.4"/>
<rect x="353.11" y="599.35" width="1.7" height="7"/>
<rect x="355.94" y="599.35" width="1.7" height="4.1"/>
<rect x="364.4" y="599.35" width="1.7" height="2.3"/>
<rect x="367.22" y="599.35" width="1.7" height="11.3"/>
<rect x="370.04" y="599.35" width="1.7" height="19.6"/>
<rect x="372.86" y="599.35" width="1.7" height="31"/>
<rect x="375.68" y="599.35" width="1.7" height="37.4"/>
<rect x="384.14" y="599.35" width="1.7" height="29.9"/>
<rect x="386.97" y="599.35" width="1.7" height="23.4"/>
<rect x="389.79" y="599.35" width="1.7" height="19.1"/>
<rect x="392.61" y="599.35" width="1.7" height="12"/>
<rect x="395.43" y="599.35" width="1.7" height="1.7"/>
<rect x="434.92" y="599.35" width="1.7" height="0.9"/>
<rect x="446.21" y="599.35" width="1.7" height="0.5"/>
<rect x="449.03" y="599.35" width="1.7" height="1.3"/>
<rect x="451.85" y="599.35" width="1.7" height="1.3"/>
<rect x="474.42" y="599.35" width="1.7" height="0.5"/>
<rect x="533.66" y="599.35" width="1.7" height="7.3"/>
<rect x="542.12" y="599.35" width="1.7" height="9.4"/>
<rect x="544.94" y="599.35" width="1.7" height="9.1"/>
<rect x="547.76" y="599.35" width="1.7" height="8.4"/>
<rect x="550.58" y="599.35" width="1.7" height="8"/>
<rect x="553.41" y="599.35" width="1.7" height="8"/>
<rect x="561.87" y="599.35" width="1.7" height="8.4"/>
<rect x="564.69" y="599.35" width="1.7" height="8.4"/>
<rect x="567.51" y="599.35" width="1.7" height="11.6"/>
<rect x="570.33" y="599.35" width="1.7" height="14.1"/>
<rect x="573.15" y="599.35" width="1.7" height="19.4"/>
<rect x="581.62" y="599.35" width="1.7" height="19.1"/>
<rect x="584.44" y="599.35" width="1.7" height="20.3"/>
<rect x="587.26" y="599.35" width="1.7" height="18.1"/>
<rect x="590.08" y="599.35" width="1.7" height="12.3"/>
<rect x="592.9" y="599.35" width="1.7" height="5.1"/>
<rect x="601.36" y="599.35" width="1.7" height="2.3"/>
<rect x="604.18" y="599.35" width="1.7" height="1"/>
<rect x="607" y="599.35" width="1.7" height="3"/>
<rect x="609.82" y="599.35" width="1.7" height="3.4"/>
<rect x="612.65" y="599.35" width="1.7" height="2.3"/>
<rect x="621.11" y="599.35" width="1.7" height="1"/>
<rect x="632.39" y="599.35" width="1.7" height="1.3"/>
<rect x="640.86" y="599.35" width="1.7" height="5.6"/>
<rect x="643.68" y="599.35" width="1.7" height="8.4"/>
<rect x="646.5" y="599.35" width="1.7" height="11.6"/>
<rect x="649.32" y="599.35" width="1.7" height="12"/>
<rect x="652.14" y="599.35" width="1.7" height="8"/>
<rect x="660.6" y="599.35" width="1.7" height="5.1"/>
<rect x="663.42" y="599.35" width="1.7" height="2"/>
<rect x="700.1" y="599.35" width="1.7" height="0.5"/>
<rect x="702.92" y="599.35" width="1.7" height="1.6"/>
<rect x="810.12" y="599.35" width="1.7" height="0.9"/>
<rect x="818.58" y="599.35" width="1.7" height="5.1"/>
<rect x="821.4" y="599.35" width="1.7" height="7.3"/>
<rect x="824.22" y="599.35" width="1.7" height="10.1"/>
<rect x="827.04" y="599.35" width="1.7" height="12.7"/>
<rect x="829.86" y="599.35" width="1.7" height="14.9"/>
<rect x="838.33" y="599.35" width="1.7" height="17.7"/>
<rect x="841.15" y="599.35" width="1.7" height="16.3"/>
<rect x="843.97" y="599.35" width="1.7" height="16"/>
<rect x="846.79" y="599.35" width="1.7" height="15.1"/>
<rect x="849.61" y="599.35" width="1.7" height="15.6"/>
<rect x="858.07" y="599.35" width="1.7" height="13.4"/>
<rect x="860.89" y="599.35" width="1.7" height="13"/>
<rect x="863.72" y="599.35" width="1.7" height="4.9"/>
<rect x="866.54" y="599.35" width="1.7" height="3.9"/>
<rect x="908.85" y="599.35" width="1.7" height="4.1"/>
<rect x="917.31" y="599.35" width="1.7" height="4.9"/>
<rect x="920.13" y="599.35" width="1.7" height="0.9"/>
<rect x="928.6" y="599.35" width="1.7" height="0.5"/>
<rect x="937.06" y="599.35" width="1.7" height="1.2"/>
<rect x="939.88" y="599.35" width="1.7" height="3.3"/>
<rect x="942.7" y="599.35" width="1.7" height="4.7"/>
<rect x="945.52" y="599.35" width="1.7" height="9.3"/>
<rect x="948.35" y="599.35" width="1.7" height="13.4"/>
<rect x="956.81" y="599.35" width="1.7" height="11.3"/>
<rect x="959.63" y="599.35" width="1.7" height="12.3"/>
<rect x="962.45" y="599.35" width="1.7" height="13.4"/>
<rect x="965.27" y="599.35" width="1.7" height="11.6"/>
<rect x="968.09" y="599.35" width="1.7" height="10.2"/>
<rect x="976.56" y="599.35" width="1.7" height="11.9"/>
<rect x="979.38" y="599.35" width="1.7" height="16.1"/>
<rect x="982.2" y="599.35" width="1.7" height="23.2"/>
<rect x="985.02" y="599.35" width="1.7" height="24.8"/>
<rect x="987.84" y="599.35" width="1.7" height="26.5"/>
<rect x="996.3" y="599.35" width="1.7" height="31.1"/>
<rect x="999.12" y="599.35" width="1.7" height="26.5"/>
</g>
<line x1="63.05" x2="1046.2" y1="599.35" y2="599.35" stroke="#8a8a8a" stroke-width="1"/>
<polyline fill="none" stroke="#1f62d0" stroke-width="1.28" stroke-linejoin="round" points="108.2,485.33 111.27,480.61 114.34,477.13 117.42,476.93 122.54,478.57 127.66,480.61 132.79,487.79 136.89,493.93 139.96,498.65 144.06,502.13 148.16,505.82 151.23,515.45 155.33,529.8 159.43,542.09 163.52,546.19 167.62,550.29 171.72,557.46 175.82,561.97 179.92,564.63 186.07,564.63 192.21,562.58 198.36,562.17 206.97,561.56 212.7,558.48 218.44,554.8 222.95,553.77 228.07,552.34 233.2,549.67 239.34,544.55 245.49,541.68 252.3,536.6 260.49,535.98 268.69,536.6 272.79,534.14 277.91,530.04 286.11,525.94 293.28,514.06 298.4,507.91 305.57,505.25 310.7,503.4 316.84,507.91 320.94,509.55 326.07,512.01 332.21,524.3 337.34,535.57 344.51,541.72 348.61,547.46 352.7,551.35 356.8,553.4 365,554.43 368.07,557.7 372.17,566.31 377.3,580.66 384.1,586.6 388.2,593.77 390,597.05 392.3,599.51 396.39,601.35 407.66,601.35 412.79,598.48 420.98,595.82 429.18,592.75 437.38,591.72 447.62,591.72 457.87,592.75 468.11,591.11 476.31,591.72 484.51,589.67 492.7,585.98 502.95,583.52 509.1,578.4 515.25,572.87 520,571.23 523.44,570.61 525.12,569.8 529.22,567.75 534.34,569.18 540.49,571.64 546.64,576.35 554.84,580.86 562.01,582.5 568.16,588.65 574.3,596.84 580.45,600.94 585.57,608.73 590.7,614.67 594.8,616.31 601.97,616.72 610.16,619.8 618.36,620.41 626.56,619.8 631.68,618.77 636.8,619.8 641.93,620.82 647.05,625.53 653.2,630.66 659.34,632.09 666.15,632.3 672.3,628.61 680.49,625.94 686.64,621.84 692.79,619.8 698.93,619.8 705.08,620.41 713.28,617.34 720.45,615.29 727.62,608.11 733.77,603.61 740.94,600.94 748.11,593.77 754.26,588.65 760.41,585.57 766.56,576.35 771.68,571.84 778.85,569.8 787.05,565.49 790,564.47 797.17,563.03 804.34,561.39 812.54,561.6 819.71,563.03 824.84,568.16 830.98,574.3 839.18,579.02 845.33,587.62 850.45,594.18 856.6,596.84 861.72,600.53 866.84,602.58 870.94,602.99 878.11,599.92 882.21,593.36 886.31,582.5 890.41,570.2 895.53,565.08 901.68,558.93 905.12,557.5 912.3,558.93 922.54,560.37 930.74,560.37 937.91,560.98 943.03,563.44 949.18,568.77 957.38,571.23 964.55,579.43 970.7,584.14 977.46,586.6 980.94,591.72 984.43,599.92 988.52,610.16 996.31,618.36 1000.41,625.12"/>
<polyline fill="none" stroke="#4d1818" stroke-width="1.28" stroke-linejoin="round" points="108.2,464.22 111.27,463.2 113.93,465.25 116.39,472.42 119.47,482.66 122.54,485.74 127.66,489.84 130.74,497.01 133.81,503.16 136.89,511.35 139.55,523.65 143.03,527.75 148.16,533.89 150.2,547.21 154.3,565.66 157.38,572.83 159.43,575.9 163.52,577.95 167.62,580.41 170.7,581.43 173.77,576.93 176.23,572.42 178.89,571.8 181.97,569.75 188.11,564.63 190.16,558.48 192.83,558.07 195.9,565.66 198.36,561.56 202.46,560.94 206.97,560.53 210.04,552.95 212.7,551.72 218.44,545.16 222.95,545.16 228.07,546.19 232.79,545.78 235.25,541.07 238.32,530.82 243.44,528.36 249.22,524.92 252.3,529.43 255.37,534.96 260.49,537.01 266.23,539.26 271.76,530.86 274.84,524.3 277.91,518.16 282.01,515.08 285.7,512.01 289.18,502.79 292.25,495.61 294.92,492.54 300.45,493.16 305.57,493.98 308.65,499.71 312.75,507.91 316.84,518.16 320.94,522.25 325.66,526.76 328.52,534.55 332.21,548.89 337.34,562.21 342.46,566.31 346.56,568.36 349.63,567.34 353.73,561.19 356.8,558.73 360.9,558.11 365,557.7 368.07,568.36 371.15,584.75 372.43,595.71 376.43,617.57 390.66,617.75 396.39,605.04 400.49,602.99 407.66,601.35 412.79,591.72 416.89,590.7 424.06,586.6 428.16,587.01 432.87,590.29 435.33,592.75 443.52,589.06 447.62,592.75 452.13,594.18 456.84,592.13 464.02,590.29 466.48,586.6 470.16,590.7 475.29,592.13 481.43,589.67 483.48,587.62 486.56,581.48 490.66,581.48 494.75,579.43 502.95,578.81 506.02,575.33 509.1,566.11 512.17,560.98 515.25,560.57 519.34,563.03 523.07,564.67 528.2,562.42 531.27,567.13 534.34,577.38 540.49,581.48 547.66,585.98 554.84,589.67 560.98,591.11 564.06,592.75 568.16,599.92 571.23,608.11 573.69,616.31 576.35,618.77 581.48,621.84 585.16,627.99 588.24,629.63 591.31,626.97 594.18,621.84 598.89,620.41 604.43,619.39 608.11,621.84 611.19,622.87 616.31,622.46 621.43,621.43 624.92,618.36 627.99,615.29 630.66,617.34 633.73,620.41 638.85,624.51 642.95,627.58 647.05,636.8 650.12,640.9 653.2,639.26 661.39,637.83 663.07,636.8 666.15,632.7 670.25,624.51 673.32,619.39 680.49,615.29 686.23,612.62 689.71,615.29 693.81,617.75 699.96,620.41 704.06,621.84 707.13,618.36 710.2,613.24 713.28,610.16 719.43,607.7 723.52,604.02 727.62,597.87 730.7,592.75 733.77,590.7 741.97,588.65 746.07,586.6 749.14,580.45 752.21,574.92 758.36,570.82 762.46,565.49 766.56,561.6 770.66,560.37 774.75,561.6 779.88,563.03 782.95,560.37 786.02,557.5 791.15,555.86 794.1,555.86 799.22,556.07 802.3,556.89 806.39,560.37 811.52,563.44 816.64,566.72 820.74,570.2 824.84,577.38 830.98,589.67 837.13,595.41 842.25,599.92 847.38,606.07 851.48,611.19 856.6,612.62 861.31,613.85 864.18,608.11 866.84,606.07 869.92,599.92 874.02,593.77 878.52,585.57 881.19,575.33 884.26,554.84 887.34,542.54 890.41,535.37 894.51,537.01 898.61,538.85 901.68,545.61 904.1,550.74 905.78,553.81 909.84,563.03 918.44,565.49 923.57,559.55 928.69,560.57 937.91,562.42 943.03,568.16 949.18,582.09 957.38,583.52 963.52,591.72 970.7,594.8 977.46,598.48 980.94,608.11 985.04,622.46 988.52,635.78 993.24,642.95 997.34,648.69 1000.41,651.15"/>
<line x1="63.05" x2="1046.2" y1="453.9" y2="453.9" stroke="#d0c49c" stroke-width="1.2"/>
<line x1="63.05" x2="63.05" y1="453.9" y2="661.1" stroke="#376899" stroke-width="1.35"/>
<line x1="62.35" x2="1046.2" y1="660.4" y2="660.4" stroke="#376899" stroke-width="1.35"/>
<g fill="#0b3a5c" font-size="14.55" text-anchor="end">
<text transform="translate(58.4,462.4) scale(1,1.04)">0.015</text>
<text transform="translate(58.4,510.05) scale(1,1.04)">0.010</text>
<text transform="translate(58.4,557.7) scale(1,1.04)">0.005</text>
<text transform="translate(58.4,605.35) scale(1,1.04)">0.000</text>
<text transform="translate(58.4,653) scale(1,1.04)">−0.005</text>
</g>
<line x1="60.3" x2="62.4" y1="456.4" y2="456.4" stroke="#0b3a5c" stroke-width="0.8"/>
<line x1="60.3" x2="62.4" y1="504.05" y2="504.05" stroke="#0b3a5c" stroke-width="0.8"/>
<line x1="60.3" x2="62.4" y1="551.7" y2="551.7" stroke="#0b3a5c" stroke-width="0.8"/>
<line x1="60.3" x2="62.4" y1="599.35" y2="599.35" stroke="#0b3a5c" stroke-width="0.8"/>
<line x1="60.3" x2="62.4" y1="647" y2="647" stroke="#0b3a5c" stroke-width="0.8"/>
<g fill="#0b3a5c" font-size="14.55" text-anchor="middle">
<text transform="translate(117.3,676.3) scale(1,1.04)">2025-05</text>
<text transform="translate(204.75,676.3) scale(1,1.04)">2025-06</text>
<text transform="translate(289.38,676.3) scale(1,1.04)">2025-07</text>
<text transform="translate(376.83,676.3) scale(1,1.04)">2025-08</text>
<text transform="translate(464.28,676.3) scale(1,1.04)">2025-09</text>
<text transform="translate(548.91,676.3) scale(1,1.04)">2025-10</text>
<text transform="translate(636.36,676.3) scale(1,1.04)">2025-11</text>
<text transform="translate(720.99,676.3) scale(1,1.04)">2025-12</text>
<text transform="translate(808.45,676.3) scale(1,1.04)">2026-01</text>
<text transform="translate(895.9,676.3) scale(1,1.04)">2026-02</text>
<text transform="translate(974.88,676.3) scale(1,1.04)">2026-03</text>
</g>
<line x1="117" x2="117" y1="660.4" y2="662.9" stroke="#376899" stroke-width="0.8"/>
<line x1="204.45" x2="204.45" y1="660.4" y2="662.9" stroke="#376899" stroke-width="0.8"/>
<line x1="289.08" x2="289.08" y1="660.4" y2="662.9" stroke="#376899" stroke-width="0.8"/>
<line x1="376.53" x2="376.53" y1="660.4" y2="662.9" stroke="#376899" stroke-width="0.8"/>
<line x1="463.98" x2="463.98" y1="660.4" y2="662.9" stroke="#376899" stroke-width="0.8"/>
<line x1="548.61" x2="548.61" y1="660.4" y2="662.9" stroke="#376899" stroke-width="0.8"/>
<line x1="636.06" x2="636.06" y1="660.4" y2="662.9" stroke="#376899" stroke-width="0.8"/>
<line x1="720.69" x2="720.69" y1="660.4" y2="662.9" stroke="#376899" stroke-width="0.8"/>
<line x1="808.15" x2="808.15" y1="660.4" y2="662.9" stroke="#376899" stroke-width="0.8"/>
<line x1="895.6" x2="895.6" y1="660.4" y2="662.9" stroke="#376899" stroke-width="0.8"/>
<line x1="974.58" x2="974.58" y1="660.4" y2="662.9" stroke="#376899" stroke-width="0.8"/>
<rect x="915.4" y="459.8" width="125.2" height="38.1" rx="2.5" fill="#fff" fill-opacity="0.8" stroke="#dcdcdc" stroke-width="1"/>
<line x1="919.9" x2="944.1" y1="469" y2="469" stroke="#4d1818" stroke-width="1.5"/>
<line x1="919.9" x2="944.1" y1="486.3" y2="486.3" stroke="#1f62d0" stroke-width="1.5"/>
<text x="953.2" y="473.7" font-size="11.8" fill="#0b3a5c">MACD</text>
<text x="953.2" y="491" font-size="11.8" fill="#0b3a5c">MACD SIGNAL</text>
</svg>
</body></html>
